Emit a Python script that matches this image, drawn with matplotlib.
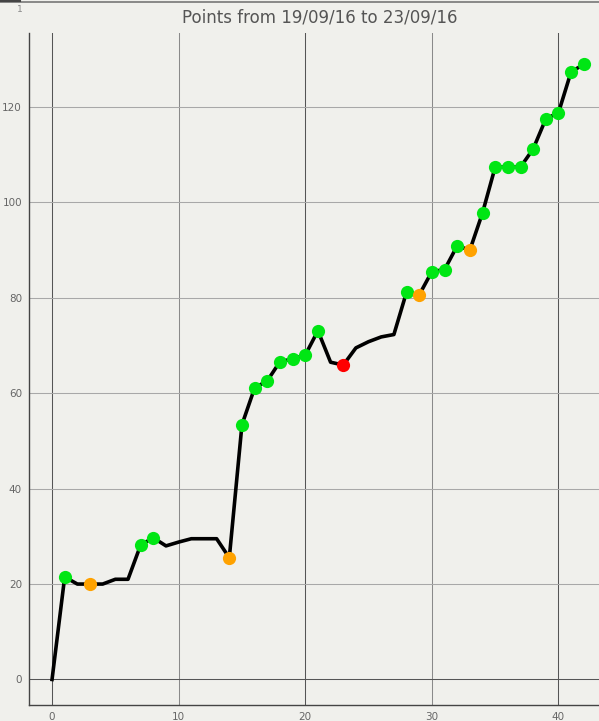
import matplotlib
matplotlib.use('Agg')
import matplotlib.pyplot as plt
from matplotlib.lines import Line2D

# Données
points = [0, 21.5, 20.0, 20.0, 20.0, 21.0, 21.0, 28.2, 29.7, 28.0,
          28.8, 29.5, 29.5, 29.5, 25.5, 53.4, 61.1, 62.6, 66.6, 67.2,
          68.0, 73.1, 66.5, 65.9, 69.5, 70.8, 71.8, 72.3, 81.2, 80.6,
          85.5, 85.9, 90.9, 90.0, 97.8, 107.4, 107.4, 107.4, 111.2, 117.5,
          118.8, 127.4, 128.9]
green_idx = [1, 7, 8, 15, 16, 17, 18, 19, 20, 21, 28, 30, 31, 32, 34,
             35, 36, 37, 38, 39, 40, 41, 42]
orange_idx = [3, 14, 29, 33]
red_idx = [23]
x_ticks = [0, 10, 20, 30, 40]
y_ticks = [0, 20, 40, 60, 80, 100, 120]

bg = '#f0f0ec'
fig = plt.figure(figsize=(5.99, 7.21), dpi=100, facecolor=bg)
ax = fig.add_axes([29 / 599, 16 / 721, 570 / 599, 672 / 721])
ax.set_facecolor(bg)

ax.set_xlim(-1.82, 43.2)
ax.set_ylim(-5.35, 135.5)

# grille
for xv in x_ticks:
    c = '#555555' if xv % 20 == 0 else '#8a8a8a'
    ax.axvline(xv, color=c, lw=0.75, zorder=1)
for yv in y_ticks:
    c = '#555555' if yv == 0 else '#a8a8a8'
    ax.axhline(yv, color=c, lw=0.75, zorder=1)

xs = list(range(len(points)))
ax.plot(xs, points, color='black', lw=2.6, zorder=3)

for idx, col in [(green_idx, '#00e614'), (orange_idx, '#ffa200'), (red_idx, '#ff0000')]:
    ax.plot([xs[i] for i in idx], [points[i] for i in idx], 'o', color=col,
            ms=9.5, mec='none', zorder=4)

ax.set_xticks(x_ticks)
ax.set_yticks(y_ticks)
ax.tick_params(length=0, labelsize=7.5, colors='#666666', pad=5)
for side in ['top', 'right']:
    ax.spines[side].set_visible(False)
for side in ['left', 'bottom']:
    ax.spines[side].set_color('#444444')
    ax.spines[side].set_linewidth(1.0)

fig.text(320 / 599, 1 - 18 / 721, 'Points from 19/09/16 to 23/09/16',
         ha='center', va='center', fontsize=12, color='#555555')
fig.text(20 / 599, 1 - 10 / 721, '1', ha='center', va='center',
         fontsize=6.5, color='#888888')

# bordure du haut
fig.add_artist(Line2D([0, 1], [1 - 2 / 721, 1 - 2 / 721], color='#777777',
                      lw=1.2, transform=fig.transFigure))
fig.add_artist(Line2D([0, 20 / 599], [1 - 1 / 721, 1 - 1 / 721], color='#444444',
                      lw=1.5, transform=fig.transFigure))

plt.savefig('out.png', dpi=100, facecolor=bg)
plt.close()
